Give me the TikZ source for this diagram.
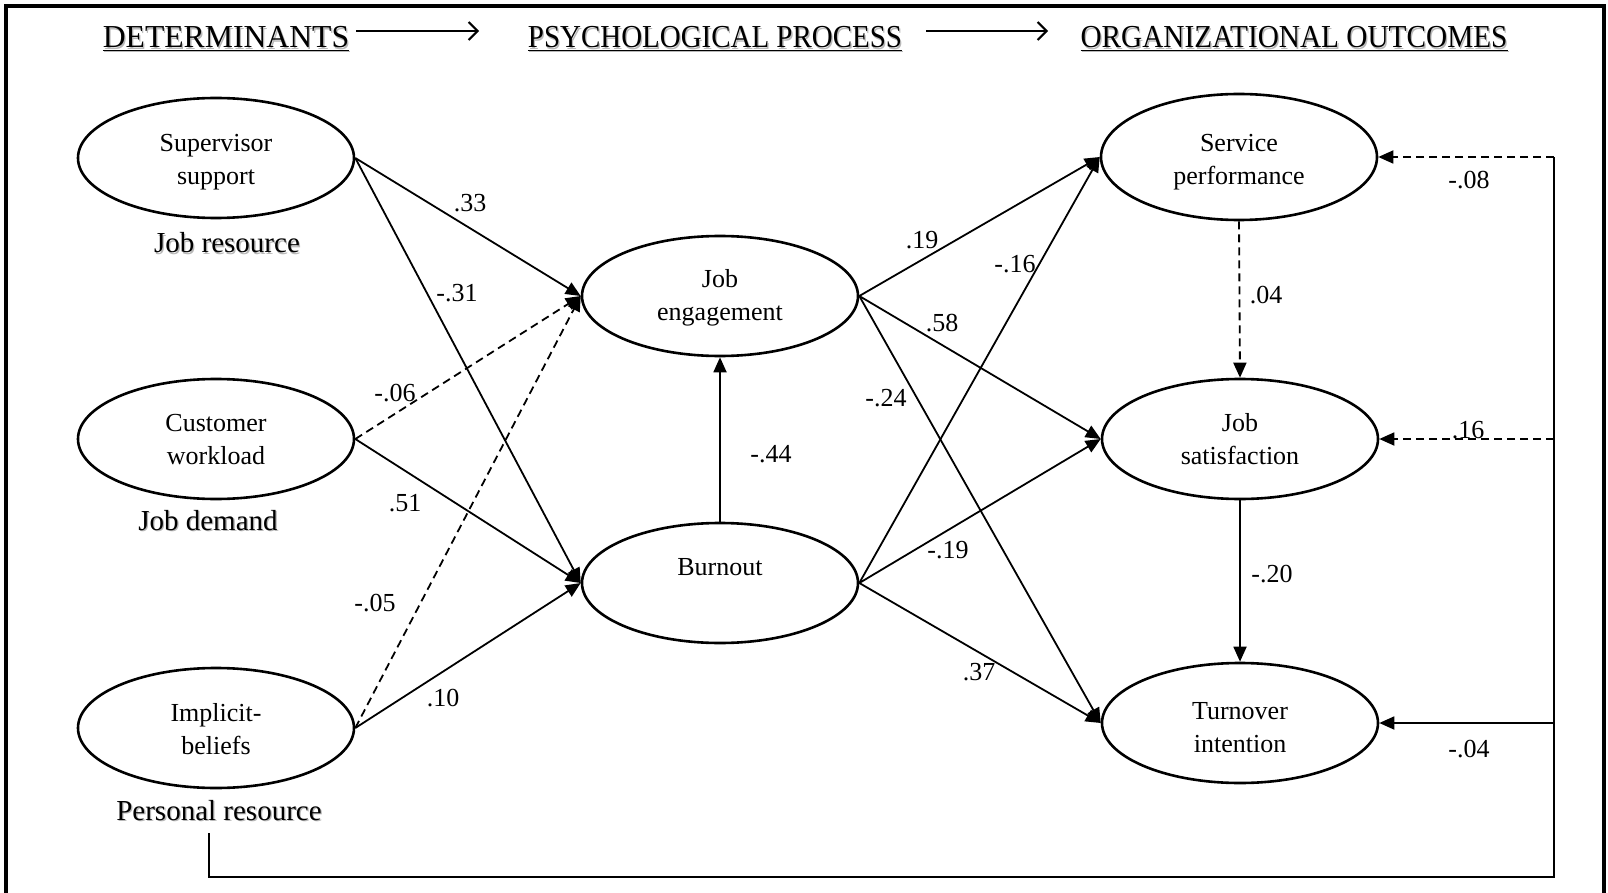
\documentclass[tikz,border=0pt]{standalone}
\usepackage{fontspec}
\usepackage{graphicx}
\setmainfont{Liberation Serif}
\usetikzlibrary{shapes.geometric,arrows.meta}

% text with a soft grey drop shadow
\newcommand\shadowed[1]{\leavevmode\rlap{\kern1.3pt\raisebox{-1.3pt}{\textcolor{black!28}{#1}}}#1}
% underlined, narrowed heading text: #1 = horizontal scale, #2 = text
\newcommand\headtext[2]{\shadowed{\scalebox{#1}[1]{\underline{#2}}}}
% centred lines, lowered by #1 pt without changing the box size
\newcommand\ltext[2]{\raisebox{-#1pt}[\height][\depth]{\begin{tabular}{@{}c@{}}#2\end{tabular}}}

\begin{document}
\begin{tikzpicture}[x=1pt,y=-1pt,
  latent/.style={ellipse,draw,line width=2.6pt,minimum width=276pt,minimum height=120pt,
                 inner sep=0pt,font=\fontsize{26}{33}\selectfont},
  latenttall/.style={latent,minimum height=126pt},
  effect/.style={line width=1.8pt,-{Triangle[length=15pt,width=13pt]}},
  nseffect/.style={effect,dash pattern=on 8pt off 5pt},
  link/.style={line width=1.8pt},
  coef/.style={font=\fontsize{26}{30}\selectfont,inner sep=0pt},
  grouplabel/.style={font=\fontsize{29}{32}\selectfont,anchor=base,inner sep=0pt},
  heading/.style={font=\fontsize{32}{36}\selectfont,anchor=base,inner sep=0pt},
  flow/.style={line width=2pt,-{Straight Barb[length=9pt,width=18pt,line width=2pt]}},
]
\useasboundingbox (0,0) rectangle (1608,893);
\fill[white] (0,0) rectangle (1608,893);
\clip (0,0) rectangle (1608,893);

% outer frame (open at the bottom edge of the page)
\draw[line width=3.5pt] (6,900) -- (6,6) -- (1604,6) -- (1604,900);

% stage headings
\node[heading] (hdet) at (226,48) {\headtext{0.99}{DETERMINANTS}};
\node[heading] (hpsy) at (715,48) {\headtext{0.905}{PSYCHOLOGICAL PROCESS}};
\node[heading] (horg) at (1294,48) {\headtext{0.915}{ORGANIZATIONAL OUTCOMES}};
\coordinate (f1a) at (356,31);
\coordinate (f1b) at (479,31);
\coordinate (f2a) at (926,31);
\coordinate (f2b) at (1048,31);
\draw[flow] (f1a) -- (f1b);
\draw[flow] (f2a) -- (f2b);

% determinants
\node[latent] (ss) at (216,158) {\ltext{3}{Supervisor\\support}};
\node[latent] (cw) at (216,439) {\ltext{2.5}{Customer\\workload}};
\node[latent] (ib) at (216,728) {\ltext{3.5}{Implicit-\\beliefs}};
\node[grouplabel] (jr) at (227,253) {\shadowed{Job resource}};
\node[grouplabel] (jd) at (208,530) {\shadowed{Job demand}};
\node[grouplabel] (pr) at (219,820) {\shadowed{Personal resource}};

% psychological process
\node[latent] (je) at (720,296) {\ltext{1.5}{Job\\engagement}};
\node[latent] (bo) at (720,583) {\ltext{2}{Burnout\\\phantom{B}}};

% organizational outcomes
\node[latenttall] (sp) at (1239,157) {\ltext{4}{Service\\performance}};
\node[latent] (js) at (1240,439) {\ltext{2.5}{Job\\satisfaction}};
\node[latent] (ti) at (1240,723) {\ltext{6}{Turnover\\intention}};

% determinants -> process
\draw[effect]   (ss.east) -- (je.west);
\draw[effect]   (ss.east) -- (bo.west);
\draw[nseffect] (cw.east) -- (je.west);
\draw[effect]   (cw.east) -- (bo.west);
\draw[nseffect] (ib.east) -- (je.west);
\draw[effect]   (ib.east) -- (bo.west);
\draw[effect]   (bo.north) -- (je.south);

% process -> outcomes
\draw[effect] (je.east) -- (sp.west);
\draw[effect] (je.east) -- (js.west);
\draw[effect] (je.east) -- (ti.west);
\draw[effect] (bo.east) -- (sp.west);
\draw[effect] (bo.east) -- (js.west);
\draw[effect] (bo.east) -- (ti.west);

% among outcomes
\draw[nseffect] (sp.south) -- (js.north);
\draw[effect]   (js.south) -- (ti.north);

% personal resource -> outcomes, routed around the bottom and right side
\coordinate (l0) at (209,833);
\coordinate (l1) at (209,877);
\coordinate (l2) at (1554,877);
\coordinate (r1) at (1554,157);
\coordinate (r2) at (1554,439);
\coordinate (r3) at (1554,723);
\draw[link] (l0) -- (l1) -- (l2) -- (r1);
\draw[nseffect] (r1) -- (sp.east);
\draw[nseffect] (r2) -- (js.east);
\draw[effect]   (r3) -- (ti.east);

% path coefficients
\node[coef] (c1)  at (470,203) {.33};
\node[coef] (c2)  at (457,293) {-.31};
\node[coef] (c3)  at (395,393) {-.06};
\node[coef] (c4)  at (405,503) {.51};
\node[coef] (c5)  at (375,603) {-.05};
\node[coef] (c6)  at (443,698) {.10};
\node[coef] (c7)  at (771,454) {-.44};
\node[coef] (c8)  at (922,240) {.19};
\node[coef] (c9)  at (1015,264) {-.16};
\node[coef] (c10) at (942,323) {.58};
\node[coef] (c11) at (886,398) {-.24};
\node[coef] (c12) at (948,550) {-.19};
\node[coef] (c13) at (979,672) {.37};
\node[coef] (c14) at (1266,295) {.04};
\node[coef] (c15) at (1272,574) {-.20};
\node[coef] (c16) at (1469,180) {-.08};
\node[coef] (c17) at (1468,430) {.16};
\node[coef] (c18) at (1469,749) {-.04};
\end{tikzpicture}
\end{document}
